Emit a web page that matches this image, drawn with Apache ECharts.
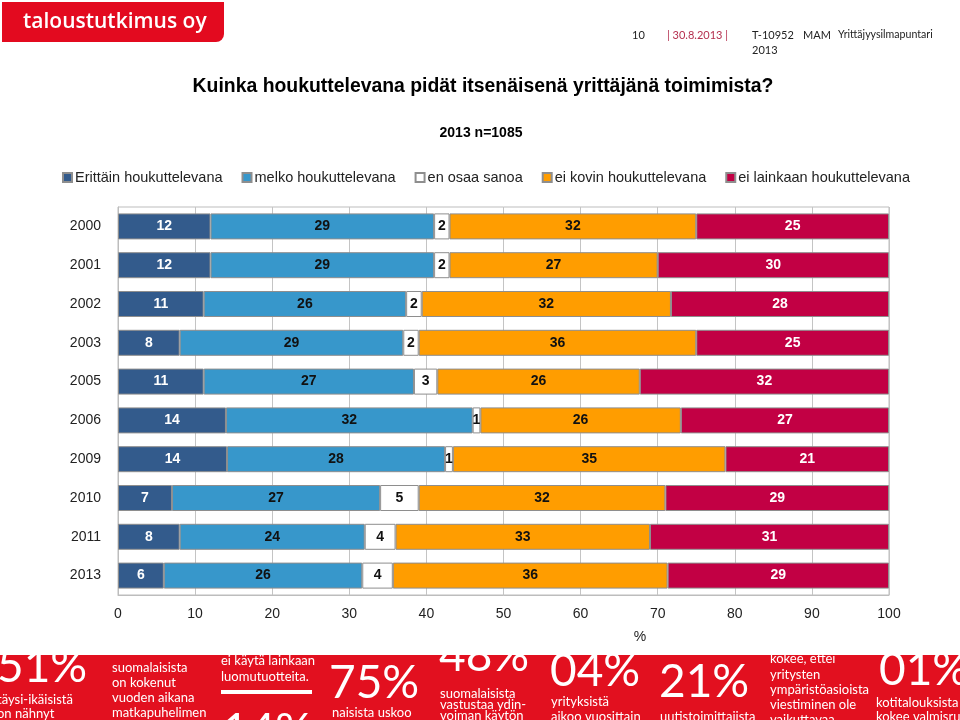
<!DOCTYPE html>
<html>
<head>
<meta charset="utf-8">
<script src="https://cdn.jsdelivr.net/npm/echarts@6/dist/echarts.min.js"></script>
<style>
html,body{margin:0;padding:0;background:#fff;}
#chart{width:960px;height:720px;}
</style>
</head>
<body>
<div id="chart"></div>
<script>
// ---- data ----
const years = ['2000','2001','2002','2003','2005','2006','2009','2010','2011','2013'];
const seriesNames = ['Erittäin houkuttelevana','melko houkuttelevana','en osaa sanoa','ei kovin houkuttelevana','ei lainkaan houkuttelevana'];
const erittain   = [12,12,11,8,11,14,14,7,8,6];
const melko      = [29,29,26,29,27,32,28,27,24,26];
const enOsaa     = [2,2,2,2,3,1,1,5,4,4];
const eiKovin    = [32,27,32,36,26,26,35,32,33,36];
const eiLainkaan = [25,30,28,25,32,27,21,29,31,29];
const xTicks = [0,10,20,30,40,50,60,70,80,90,100];

const title = 'Kuinka houkuttelevana pidät itsenäisenä yrittäjänä toimimista?';
const subtitle = '2013 n=1085';
const xName = '%';

// ---- styling ----
const colors = ['#335b8c','#3797cb','#ffffff','#ff9d00','#c20044'];
const labelColors = ['#ffffff','#111111','#111111','#111111','#ffffff'];
const allSeries = [erittain, melko, enOsaa, eiKovin, eiLainkaan];
const rowSums = years.map((_, i) => allSeries.reduce((s, a) => s + a[i], 0));

const series = allSeries.map((arr, k) => ({
  name: seriesNames[k],
  type: 'bar',
  stack: 'total',
  barWidth: 26,
  itemStyle: { color: colors[k], borderColor: '#8e8e8e', borderWidth: 1 },
  label: {
    show: true,
    position: 'inside',
    color: labelColors[k],
    fontFamily: 'Liberation Sans, Arial, sans-serif',
    fontWeight: 'bold',
    fontSize: 14,
    formatter: p => String(arr[p.dataIndex])
  },
  emphasis: { disabled: true },
  data: arr.map((v, i) => v / rowSums[i] * 100)
}));

const chart = echarts.init(document.getElementById('chart'), null, { renderer: 'canvas' });

const BIG = '46px Lato, sans-serif';
const SM = '13px Lato, sans-serif';
const bannerTexts = [
  { t: '51%', x: -3, y: 667, f: BIG },
  { t: 'täysi-ikäisistä', x: -3, y: 700, f: SM },
  { t: 'on nähnyt', x: -3, y: 714, f: SM },
  { t: 'suomalaisista', x: 112, y: 668, f: SM },
  { t: 'on kokenut', x: 112, y: 683, f: SM },
  { t: 'vuoden aikana', x: 112, y: 698, f: SM },
  { t: 'matkapuhelimen', x: 112, y: 713, f: SM },
  { t: 'ei käytä lainkaan', x: 221, y: 661, f: SM },
  { t: 'luomutuotteita.', x: 221, y: 677, f: SM },
  { t: '14%', x: 222, y: 731, f: BIG },
  { t: '75%', x: 329, y: 683, f: BIG },
  { t: 'naisista uskoo', x: 332, y: 713, f: SM },
  { t: '48%', x: 439, y: 656, f: BIG },
  { t: 'suomalaisista', x: 440, y: 694, f: SM },
  { t: 'vastustaa ydin-', x: 440, y: 705, f: SM },
  { t: 'voiman käytön', x: 440, y: 716, f: SM },
  { t: '04%', x: 550, y: 671, f: BIG },
  { t: 'yrityksistä', x: 551, y: 702, f: SM },
  { t: 'aikoo vuosittain', x: 551, y: 717, f: SM },
  { t: '21%', x: 659, y: 682, f: BIG },
  { t: 'uutistoimittajista', x: 660, y: 717, f: SM },
  { t: 'kokee, ettei', x: 770, y: 659, f: SM },
  { t: 'yritysten', x: 770, y: 675, f: SM },
  { t: 'ympäristöasioista', x: 770, y: 690, f: SM },
  { t: 'viestiminen ole', x: 770, y: 705, f: SM },
  { t: 'vaikuttavaa', x: 770, y: 720, f: SM },
  { t: '01%', x: 879, y: 670, f: BIG },
  { t: 'kotitalouksista', x: 876, y: 703, f: SM },
  { t: 'kokee valmisruoan', x: 876, y: 717, f: SM }
];

const graphics = [
  // logo
  { type: 'rect', shape: { x: 2, y: 2, width: 222, height: 40, r: [0, 0, 8, 0] }, style: { fill: '#e30a1f' }, z: 10 },
  { type: 'text', z: 11, style: { text: 'taloustutkimus oy', x: 23, y: 22, fill: '#fff', font: '600 21px "Open Sans", sans-serif', textVerticalAlign: 'middle' } },
  // header right
  { type: 'text', style: { text: '10', x: 632, y: 35, fill: '#222', font: '11px Lato, sans-serif', textVerticalAlign: 'middle' } },
  { type: 'text', style: { text: '| 30.8.2013 |', x: 667, y: 35, fill: '#b5304f', font: '11px Lato, sans-serif', textVerticalAlign: 'middle' } },
  { type: 'text', style: { text: 'T-10952', x: 752, y: 35, fill: '#222', font: '11px Lato, sans-serif', textVerticalAlign: 'middle' } },
  { type: 'text', style: { text: '2013', x: 752, y: 50, fill: '#222', font: '11px Lato, sans-serif', textVerticalAlign: 'middle' } },
  { type: 'text', style: { text: 'MAM', x: 803, y: 35, fill: '#222', font: '11px Lato, sans-serif', textVerticalAlign: 'middle' } },
  { type: 'text', style: { text: 'Yrittäjyysilmapuntari', x: 838, y: 35, fill: '#222', font: '10.6px Lato, sans-serif', textVerticalAlign: 'middle' } },
  // titles
  { type: 'text', style: { text: title, x: 483, y: 87, fill: '#000', font: 'bold 19.4px "Liberation Sans", Arial, sans-serif', textAlign: 'center', textVerticalAlign: 'middle' } },
  { type: 'text', style: { text: subtitle, x: 481, y: 133, fill: '#000', font: 'bold 14px "Liberation Sans", Arial, sans-serif', textAlign: 'center', textVerticalAlign: 'middle' } },
  // x axis unit label (off-centre in the reference)
  { type: 'text', style: { text: xName, x: 640, y: 637, fill: '#222', font: '14px "Liberation Sans", Arial, sans-serif', textAlign: 'center', textVerticalAlign: 'middle' } },
  // banner
  { type: 'rect', shape: { x: 0, y: 655, width: 960, height: 65 }, style: { fill: '#e2101f' }, z: 1 },
  { type: 'rect', shape: { x: 221, y: 690, width: 91, height: 4 }, style: { fill: '#fff' }, z: 2 }
].concat(bannerTexts.map(b => ({
  type: 'text', z: 2, style: { text: b.t, x: b.x, y: b.y, fill: '#fff', font: b.f, textVerticalAlign: 'middle' }
}))).concat([
  { type: 'rect', shape: { x: 0, y: 648, width: 960, height: 7 }, style: { fill: '#fff' }, z: 3 }
]);

chart.setOption({
  animation: false,
  backgroundColor: '#fff',
  legend: {
    data: seriesNames,
    left: 57,
    top: 165,
    itemWidth: 9,
    itemHeight: 9,
    itemGap: 19,
    icon: 'rect',
    textStyle: { fontFamily: 'Liberation Sans, Arial, sans-serif', fontSize: 14.5, color: '#222', padding: [0, 0, 0, -2] }
  },
  grid: { left: 118, right: 71, top: 207, bottom: 125, show: true, borderColor: '#bdbdbd', borderWidth: 1 },
  xAxis: {
    type: 'value', min: 0, max: 100, interval: 10,
    axisLine: { show: true, lineStyle: { color: '#bdbdbd' } },
    axisTick: { show: false },
    axisLabel: { fontFamily: 'Liberation Sans, Arial, sans-serif', fontSize: 14, color: '#222', margin: 12 },
    splitLine: { show: true, lineStyle: { color: '#c4c4c4' } }
  },
  yAxis: {
    type: 'category', data: years, inverse: true,
    axisLine: { show: true, lineStyle: { color: '#bdbdbd' } },
    axisTick: { show: false },
    axisLabel: { fontFamily: 'Liberation Sans, Arial, sans-serif', fontSize: 14, color: '#222', margin: 17 },
    splitLine: { show: false }
  },
  series: series,
  graphic: graphics
});
</script>
</body>
</html>
